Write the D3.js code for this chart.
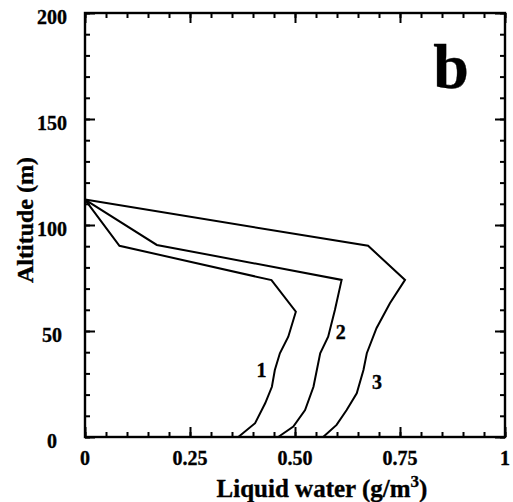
<!DOCTYPE html>
<html>
<head>
<meta charset="utf-8">
<script src="https://cdn.jsdelivr.net/npm/d3@7"></script>
<style>
  html, body { margin: 0; padding: 0; background: #fff; }
  svg { display: block; }
  text { font-family: "Liberation Serif", "DejaVu Serif", serif; font-weight: bold; fill: #000; stroke: #000; stroke-width: 0.35px; }
</style>
</head>
<body>
<svg id="chart" width="513" height="502"></svg>
<script>
// Liquid water profiles (g/m^3) against altitude (m), three cases
const curve1Water = [0, 0.082, 0.444, 0.502, 0.484, 0.464, 0.452, 0.445, 0.429, 0.405, 0.365];
const curve1Alt   = [112, 90.2, 74, 59.1, 47.3, 39.5, 31.6, 23.7, 15.9, 6.5, 0];

const curve2Water = [0, 0.171, 0.611, 0.595, 0.579, 0.560, 0.552, 0.544, 0.524, 0.496, 0.460];
const curve2Alt   = [112, 90.6, 74.1, 59.9, 47.3, 39.5, 31.6, 23.7, 12.7, 4.9, 0];

const curve3Water = [0, 0.674, 0.762, 0.726, 0.694, 0.671, 0.663, 0.647, 0.623, 0.599, 0.567];
const curve3Alt   = [112, 90.2, 74.1, 63.1, 51.3, 39.5, 31.6, 20.6, 12.7, 5.7, 0];

const curveNames  = ["1", "2", "3"];
const nameWater   = [0.42, 0.609, 0.695];
const nameAlt     = [31.6, 49.4, 26.1];

const xTickValues = [0, 0.25, 0.5, 0.75, 1];
const xTickLabels = ["0", "0.25", "0.50", "0.75", "1"];
const yTickValues = [0, 50, 100, 150, 200];
const yTickLabels = ["0", "50", "100", "150", "200"];
const xMinorTicks = d3.range(0, 1.0001, 0.05);
const yMinorTicks = d3.range(0, 200.001, 10);

const panelLetter = "b";

const svg = d3.select("#chart");
const plotLeft = 85, plotRight = 505, plotTop = 13, plotBottom = 437;

const x = d3.scaleLinear().domain([0, 1]).range([plotLeft, plotRight]);
const y = d3.scaleLinear().domain([0, 200]).range([plotBottom, plotTop]);

// inward ticks on all four sides via d3 axes: long at labelled values, short elsewhere
function tickRow(axis, transform, values, size) {
  const g = svg.append("g")
    .attr("transform", transform)
    .call(axis.tickValues(values).tickSizeInner(-size).tickSizeOuter(0).tickFormat(() => ""));
  g.select(".domain").remove();
  g.selectAll(".tick line")
    .style("stroke", "#000")
    .style("stroke-width", "2px");
}
tickRow(d3.axisBottom(x), `translate(0,${plotBottom})`, xMinorTicks, 5);
tickRow(d3.axisBottom(x), `translate(0,${plotBottom})`, xTickValues, 10);
tickRow(d3.axisTop(x), `translate(0,${plotTop})`, xMinorTicks, 5);
tickRow(d3.axisTop(x), `translate(0,${plotTop})`, xTickValues, 10);
tickRow(d3.axisLeft(y), `translate(${plotLeft},0)`, yMinorTicks, 5);
tickRow(d3.axisLeft(y), `translate(${plotLeft},0)`, yTickValues, 10);
tickRow(d3.axisRight(y), `translate(${plotRight},0)`, yMinorTicks, 5);
tickRow(d3.axisRight(y), `translate(${plotRight},0)`, yTickValues, 10);

// frame
svg.append("rect")
  .attr("x", plotLeft).attr("y", plotTop)
  .attr("width", plotRight - plotLeft).attr("height", plotBottom - plotTop)
  .attr("fill", "none").attr("stroke", "#000").attr("stroke-width", 2.4);

// tick labels
svg.append("g").selectAll("text").data(xTickValues).join("text")
  .attr("x", d => x(d)).attr("y", 465)
  .attr("text-anchor", "middle")
  .attr("font-size", 20)
  .text((d, i) => xTickLabels[i]);

svg.append("g").selectAll("text").data(yTickValues).join("text")
  .attr("x", 52).attr("y", d => y(d) + 11)
  .attr("text-anchor", "middle")
  .attr("font-size", 20)
  .text((d, i) => yTickLabels[i]);

// axis titles
const xt = svg.append("text")
  .attr("x", 322).attr("y", 497)
  .attr("text-anchor", "middle")
  .attr("font-size", 25);
xt.append("tspan").text("Liquid water (g/m");
xt.append("tspan").attr("font-size", 17).attr("dy", -10).text("3");
xt.append("tspan").attr("dy", 10).text(")");

svg.append("text")
  .attr("transform", "translate(33,220) rotate(-90)")
  .attr("text-anchor", "middle")
  .attr("font-size", 24)
  .text("Altitude (m)");

// profiles
const line = d3.line().x(d => x(d[0])).y(d => y(d[1]));
const curves = [
  d3.zip(curve1Water, curve1Alt),
  d3.zip(curve2Water, curve2Alt),
  d3.zip(curve3Water, curve3Alt)
];
svg.append("g").selectAll("path").data(curves).join("path")
  .attr("d", line)
  .attr("fill", "none")
  .attr("stroke", "#000")
  .attr("stroke-width", 2)
  .attr("stroke-linejoin", "miter");

// curve numbers
svg.append("g").selectAll("text").data(curveNames).join("text")
  .attr("x", (d, i) => x(nameWater[i]))
  .attr("y", (d, i) => y(nameAlt[i]) + 7)
  .attr("text-anchor", "middle")
  .attr("font-size", 20)
  .text(d => d);

// panel letter
svg.append("text")
  .attr("x", 451).attr("y", 88)
  .attr("text-anchor", "middle")
  .attr("font-size", 64)
  .text(panelLetter);
</script>
</body>
</html>
